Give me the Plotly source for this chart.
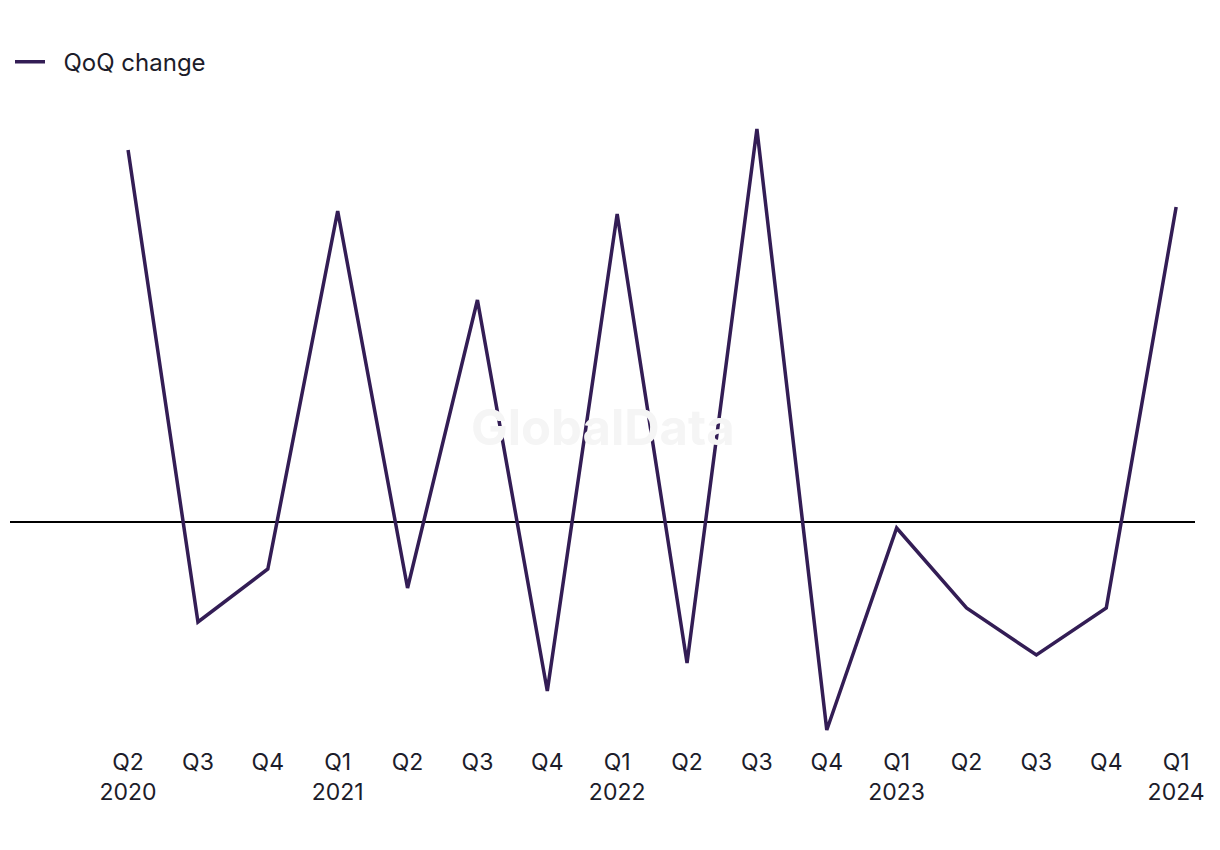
import plotly.graph_objects as go

quarters = ["Q2<br>2020", "Q3", "Q4", "Q1<br>2021", "Q2", "Q3", "Q4", "Q1<br>2022",
            "Q2", "Q3", "Q4", "Q1<br>2023", "Q2", "Q3", "Q4", "Q1<br>2024"]
qoq_change = [18.6, -5.0, -2.35, 15.55, -3.3, 11.1, -8.45, 15.4,
              -7.05, 19.65, -10.4, -0.3, -4.3, -6.65, -4.3, 15.75]

x_idx = list(range(len(quarters)))
LINE = "#331d55"
FONT = "Inter, Roboto, sans-serif"

fig = go.Figure()
fig.add_trace(go.Scatter(x=x_idx, y=qoq_change, mode="lines",
                         name="\u00a0\u00a0QoQ change",
                         line=dict(color=LINE, width=3.5)))

fig.add_annotation(text="GlobalData", x=0.5, y=0.5, xref="paper", yref="paper",
                   yshift=-7, showarrow=False,
                   font=dict(family=FONT, size=49, color="#f5f5f5", weight="bold"))

fig.update_layout(
    width=1220, height=850,
    margin=dict(l=2, r=33, t=92, b=118),
    paper_bgcolor="white", plot_bgcolor="white",
    font=dict(family=FONT, size=23, color="#1c1c2a"),
    showlegend=True,
    legend=dict(x=0, y=1.059, xanchor="left", yanchor="middle",
                orientation="h", font=dict(size=24), itemwidth=30,
                bgcolor="rgba(0,0,0,0)"),
    xaxis=dict(tickmode="array", tickvals=x_idx, ticktext=quarters,
               range=[-1.69, 15.27], showgrid=False, zeroline=False,
               showline=False, ticks="", tickfont=dict(size=23),
               ticklabelstandoff=6),
    yaxis=dict(range=[-10.9, 21.1], showgrid=False, zeroline=True,
               zerolinecolor="#000000", zerolinewidth=1.5, showticklabels=False,
               showline=False, ticks=""),
)
fig.write_html("out.html")
